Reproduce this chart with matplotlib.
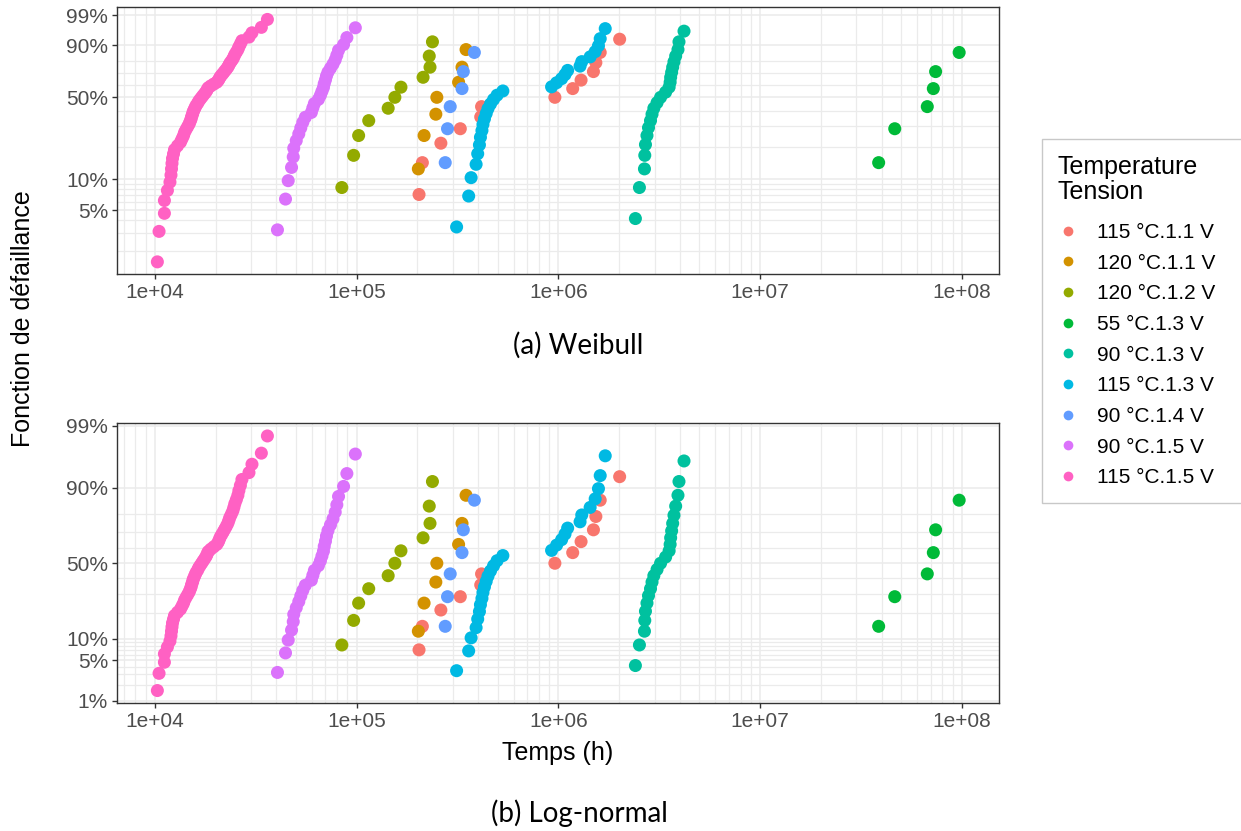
import numpy as np
import matplotlib
matplotlib.use("Agg")
import matplotlib.pyplot as plt
from matplotlib.lines import Line2D
from matplotlib.ticker import FixedLocator, FixedFormatter, LogLocator, NullFormatter
from statistics import NormalDist

plt.rcParams['font.family'] = ['Liberation Sans', 'DejaVu Sans']

# groups (Temperature.Tension) and their colours
labels = ["115 °C.1.1 V", "120 °C.1.1 V", "120 °C.1.2 V", "55 °C.1.3 V", "90 °C.1.3 V",
          "115 °C.1.3 V", "90 °C.1.4 V", "90 °C.1.5 V", "115 °C.1.5 V"]
colors = ["#F8766D", "#D39200", "#93AA00", "#00BA38", "#00C19F",
          "#00B9E3", "#619CFF", "#DB72FB", "#FF61C3"]

# failure times (h) and failure probabilities
t_115_11 = [203800, 211700, 261500, 326400, 412000, 416000, 960500, 1177000, 1295000,
            1491000, 1533000, 1611000, 2011000]
p_115_11 = [0.0714, 0.1429, 0.2143, 0.2857, 0.3571, 0.4286, 0.5, 0.5714, 0.6429,
            0.7143, 0.7857, 0.8571, 0.9286]

t_120_11 = [202200, 215900, 246900, 249700, 320100, 332800, 348500]
p_120_11 = [0.125, 0.25, 0.375, 0.5, 0.625, 0.75, 0.875]

t_120_12 = [84470, 96610, 102300, 114800, 143300, 154700, 165800, 213400, 231000,
            229000, 237500]
p_120_12 = [0.0833, 0.1667, 0.25, 0.3333, 0.4167, 0.5, 0.5833, 0.6667, 0.75, 0.8333, 0.9167]

t_55_13 = [38640000, 46430000, 67300000, 72100000, 74010000, 96830000]
p_55_13 = [0.1429, 0.2857, 0.4286, 0.5714, 0.7143, 0.8571]

t_90_13 = [2407000, 2520000, 2669000, 2679000, 2700000, 2747000, 2795000, 2860000,
           2910000, 2971000, 3082000, 3208000, 3398000, 3537000, 3578000, 3599000,
           3640000, 3683000, 3738000, 3811000, 3913000, 3958000, 4192000]
p_90_13 = [0.0417, 0.0833, 0.125, 0.1667, 0.2083, 0.25, 0.2917, 0.3333, 0.375, 0.4167,
           0.4583, 0.5, 0.5417, 0.5833, 0.625, 0.6667, 0.7083, 0.75, 0.7917, 0.8333,
           0.875, 0.9167, 0.9583]

t_115_13 = [312900, 359100, 369200, 390900, 398100, 406000, 410700, 417800, 422600,
            429900, 438500, 447700, 460700, 476900, 496500, 530500, 924900, 979500,
            1037000, 1078000, 1111000, 1280000, 1305000, 1436000, 1521000, 1579000,
            1611000, 1706000]
p_115_13 = [0.0345, 0.069, 0.1034, 0.1379, 0.1724, 0.2069, 0.2414, 0.2759, 0.3103,
            0.3448, 0.3793, 0.4138, 0.4483, 0.4828, 0.5172, 0.5517, 0.5862, 0.6207,
            0.6552, 0.6897, 0.7241, 0.7586, 0.7931, 0.8276, 0.8621, 0.8966, 0.931, 0.9655]

t_90_14 = [274800, 282100, 290900, 332800, 337800, 383200]
p_90_14 = [0.1429, 0.2857, 0.4286, 0.5714, 0.7143, 0.8571]

t_90_15 = [40510, 44410, 45800, 47570, 48510, 48790, 50200, 51670, 52870, 54100,
           55680, 59650, 60680, 61740, 64640, 66140, 67290, 68460, 69090, 70060,
           70870, 72100, 74190, 76350, 78310, 79770, 81330, 86130, 89450, 98520]
p_90_15 = [0.0323, 0.0645, 0.0968, 0.129, 0.1613, 0.1935, 0.2258, 0.2581, 0.2903,
           0.3226, 0.3548, 0.3871, 0.4194, 0.4516, 0.4839, 0.5161, 0.5484, 0.5806,
           0.6129, 0.6452, 0.6774, 0.7097, 0.7419, 0.7742, 0.8065, 0.8387, 0.871,
           0.9032, 0.9355, 0.9677]

t_115_15 = [10290, 10490, 11150, 11150, 11540, 11880, 12020, 12090, 12160, 12230,
            12370, 12510, 12950, 13400, 13640, 13870, 14030, 14270, 14530, 14780,
            14950, 15120, 15210, 15380, 15470, 15650, 15830, 16010, 16290, 16480,
            16760, 17060, 17350, 17660, 17960, 18170, 18380, 18920, 19580, 20270,
            20620, 20860, 21100, 21470, 21840, 22220, 22610, 22990, 23260, 23530,
            23940, 24350, 24640, 24920, 25350, 25790, 26090, 26540, 27010, 29270,
            30290, 33710, 36120]
p_115_15 = [0.0156, 0.0312, 0.0469, 0.0625, 0.0781, 0.0938, 0.1094, 0.125, 0.1406,
            0.1562, 0.1719, 0.1875, 0.2031, 0.2188, 0.2344, 0.25, 0.2656, 0.2812,
            0.2969, 0.3125, 0.3281, 0.3438, 0.3594, 0.375, 0.3906, 0.4062, 0.4219,
            0.4375, 0.4531, 0.4688, 0.4844, 0.5, 0.5156, 0.5312, 0.5469, 0.5625,
            0.5781, 0.5938, 0.6094, 0.625, 0.6406, 0.6562, 0.6719, 0.6875, 0.7031,
            0.7188, 0.7344, 0.75, 0.7656, 0.7812, 0.7969, 0.8125, 0.8281, 0.8438,
            0.8594, 0.875, 0.8906, 0.9062, 0.9219, 0.9375, 0.9531, 0.9688, 0.9844]

times = [t_115_11, t_120_11, t_120_12, t_55_13, t_90_13, t_115_13, t_90_14, t_90_15, t_115_15]
probs = [p_115_11, p_120_11, p_120_12, p_55_13, p_90_13, p_115_13, p_90_14, p_90_15, p_115_15]

# axis ticks
x_ticks = [1e4, 1e5, 1e6, 1e7, 1e8]
x_ticklabels = ["1e+04", "1e+05", "1e+06", "1e+07", "1e+08"]
weib_ticks = [0.05, 0.10, 0.50, 0.90, 0.99]
weib_ticklabels = ["5%", "10%", "50%", "90%", "99%"]
norm_ticks = [0.01, 0.05, 0.10, 0.50, 0.90, 0.99]
norm_ticklabels = ["1%", "5%", "10%", "50%", "90%", "99%"]
minor_p = [0.01, 0.02, 0.03, 0.04, 0.06, 0.07, 0.08, 0.09, 0.2, 0.3, 0.4, 0.6, 0.7, 0.8]


# probability scales
def weib_fwd(p):
    p = np.clip(np.asarray(p, dtype=float), 1e-12, 1 - 1e-12)
    return np.log(-np.log(1 - p))


def weib_inv(y):
    return 1 - np.exp(-np.exp(np.asarray(y, dtype=float)))


nd = NormalDist()


def norm_fwd(p):
    arr = np.asarray(p, dtype=float)
    out = [nd.inv_cdf(min(max(v, 1e-12), 1 - 1e-12)) if np.isfinite(v) else np.nan
           for v in arr.ravel()]
    return np.array(out, dtype=float).reshape(arr.shape)


def norm_inv(z):
    arr = np.asarray(z, dtype=float)
    out = [nd.cdf(v) if np.isfinite(v) else np.nan for v in arr.ravel()]
    return np.array(out, dtype=float).reshape(arr.shape)


fig = plt.figure(figsize=(12.41, 8.31), dpi=100)
ax1 = fig.add_axes([0.0945, 0.6703, 0.7107, 0.3209])
ax2 = fig.add_axes([0.0945, 0.1537, 0.7107, 0.3370])

setups = [(ax1, (weib_fwd, weib_inv), weib_ticks, weib_ticklabels),
          (ax2, (norm_fwd, norm_inv), norm_ticks, norm_ticklabels)]

for ax, funcs, yt, ytl in setups:
    ax.set_xscale('log')
    ax.set_yscale('function', functions=funcs)
    for t, p, c in zip(times, probs, colors):
        ax.scatter(t, p, s=88, color=c, edgecolors='none', zorder=3)
    ax.margins(0.05)
    ax.autoscale_view()
    ax.set_ylim(ax.get_ylim())
    ax.set_xlim(ax.get_xlim())

    ax.xaxis.set_major_locator(FixedLocator(x_ticks))
    ax.xaxis.set_major_formatter(FixedFormatter(x_ticklabels))
    ax.xaxis.set_minor_locator(LogLocator(base=10, subs=np.arange(2, 10)))
    ax.xaxis.set_minor_formatter(NullFormatter())
    ax.yaxis.set_major_locator(FixedLocator(yt))
    ax.yaxis.set_major_formatter(FixedFormatter(ytl))
    ax.yaxis.set_minor_locator(FixedLocator(minor_p))
    ax.yaxis.set_minor_formatter(NullFormatter())

    ax.grid(which='major', color='#EBEBEB', linewidth=1.1, zorder=0)
    ax.grid(which='minor', color='#EBEBEB', linewidth=0.9, zorder=0)
    ax.set_axisbelow(True)
    ax.tick_params(which='major', length=3.6, width=1, color='#333333',
                   labelsize=15, labelcolor='#4D4D4D', pad=3)
    ax.tick_params(which='minor', length=0)
    for s in ax.spines.values():
        s.set_color('#333333')
        s.set_linewidth(1.0)

# legend (box runs past the right edge, as in the original)
handles = [Line2D([], [], linestyle='none', marker='o', markersize=7,
                  markerfacecolor=c, markeredgecolor='none') for c in colors]
leg = fig.legend(handles, labels, title="Temperature\nTension", loc='upper left',
                 bbox_to_anchor=(1042 / 1241, 0.3, 220 / 1241, 1 - 139 / 831 - 0.3),
                 mode='expand', borderaxespad=0,
                 fontsize=15, title_fontsize=18, alignment='left',
                 borderpad=0.75, handlelength=1.0, handletextpad=0.88,
                 labelspacing=0.56, fancybox=False, edgecolor='#C8C8C8',
                 framealpha=1)
leg.get_frame().set_linewidth(1.0)
leg.get_title().set_linespacing(1.05)
leg._legend_box.sep = 14

# axis titles and captions
fig.text(23 / 1241, 1 - 319 / 831, "Fonction de défaillance", rotation=90,
         ha='center', va='center', fontsize=18)
fig.text(558 / 1241, 1 - 753 / 831, "Temps (h)", ha='center', va='center', fontsize=18)
fig.text(578 / 1241, 1 - 345 / 831, "(a) Weibull", ha='center', va='center',
         fontsize=20, family=['Lato', 'DejaVu Sans'])
fig.text(579 / 1241, 1 - 813 / 831, "(b) Log-normal", ha='center', va='center',
         fontsize=20, family=['Lato', 'DejaVu Sans'])

fig.savefig("out.png", dpi=100)
